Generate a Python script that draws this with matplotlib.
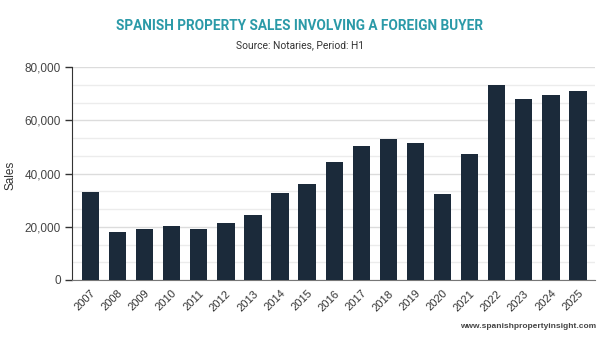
import numpy as np
import matplotlib
matplotlib.use('Agg')
import matplotlib.pyplot as plt
from matplotlib.ticker import FuncFormatter, MultipleLocator

years = ['2007', '2008', '2009', '2010', '2011', '2012', '2013', '2014', '2015', '2016',
         '2017', '2018', '2019', '2020', '2021', '2022', '2023', '2024', '2025']
sales = [33000, 18000, 19300, 20300, 19100, 21500, 24600, 32700, 36100, 44200,
         50300, 53100, 51600, 32400, 47500, 73400, 68000, 69300, 70800]

title = 'SPANISH PROPERTY SALES INVOLVING A FOREIGN BUYER'
subtitle = 'Source: Notaries, Period: H1'
ylabel = 'Sales'
credit = 'www.spanishpropertyinsight.com'

bar_color = '#1b2a3a'
title_color = '#2b9aa8'

fig = plt.figure(figsize=(6, 3.5), dpi=100)
ax = fig.add_axes([72/600, 70/350, 523/600, 213/350])

x = np.arange(len(years))
ax.bar(x, sales, width=0.64, color=bar_color, zorder=3)

ax.set_xlim(-0.68, len(years) - 0.37)
ax.set_ylim(0, 80000)
ax.yaxis.set_major_locator(MultipleLocator(20000))
ax.yaxis.set_minor_locator(MultipleLocator(20000/3))
ax.yaxis.set_major_formatter(FuncFormatter(lambda v, p: '{:,.0f}'.format(v)))
ax.grid(axis='y', which='major', color='#dcdcdc', linewidth=1, zorder=0)
ax.grid(axis='y', which='minor', color='#ececec', linewidth=1, zorder=0)

ax.set_xticks(x)
ax.set_xticklabels(years, rotation=45, ha='right', rotation_mode='anchor',
                   fontsize=8, color='#333333', family='Liberation Sans')
ax.tick_params(axis='x', length=0, pad=6)
ax.tick_params(axis='y', which='major', length=5, width=1, color='#333333',
               labelsize=8.5, labelcolor='#444444', pad=3)
ax.tick_params(axis='y', which='minor', length=0)
for lab in ax.get_yticklabels():
    lab.set_family('Liberation Sans')

for s in ['top', 'right']:
    ax.spines[s].set_visible(False)
ax.spines['left'].set_color('#333333')
ax.spines['bottom'].set_color('#777777')

fig.text(10/600, 1 - 175/350, ylabel, rotation=90, va='center', ha='center',
         fontsize=8.5, color='#333333', family='Liberation Sans')

fig.text(0.5, 1 - 26/350, title, ha='center', va='center', fontsize=9.8,
         fontweight='bold', color=title_color, family='Roboto')
fig.text(0.5, 1 - 45.5/350, subtitle, ha='center', va='center', fontsize=7.4,
         color='#333333', family='Roboto')
fig.text(596/600, 1 - 327/350, credit, ha='right', va='center', fontsize=6,
         fontweight='bold', color='#444444', family='Liberation Sans')

fig.savefig('out.png', dpi=100)
